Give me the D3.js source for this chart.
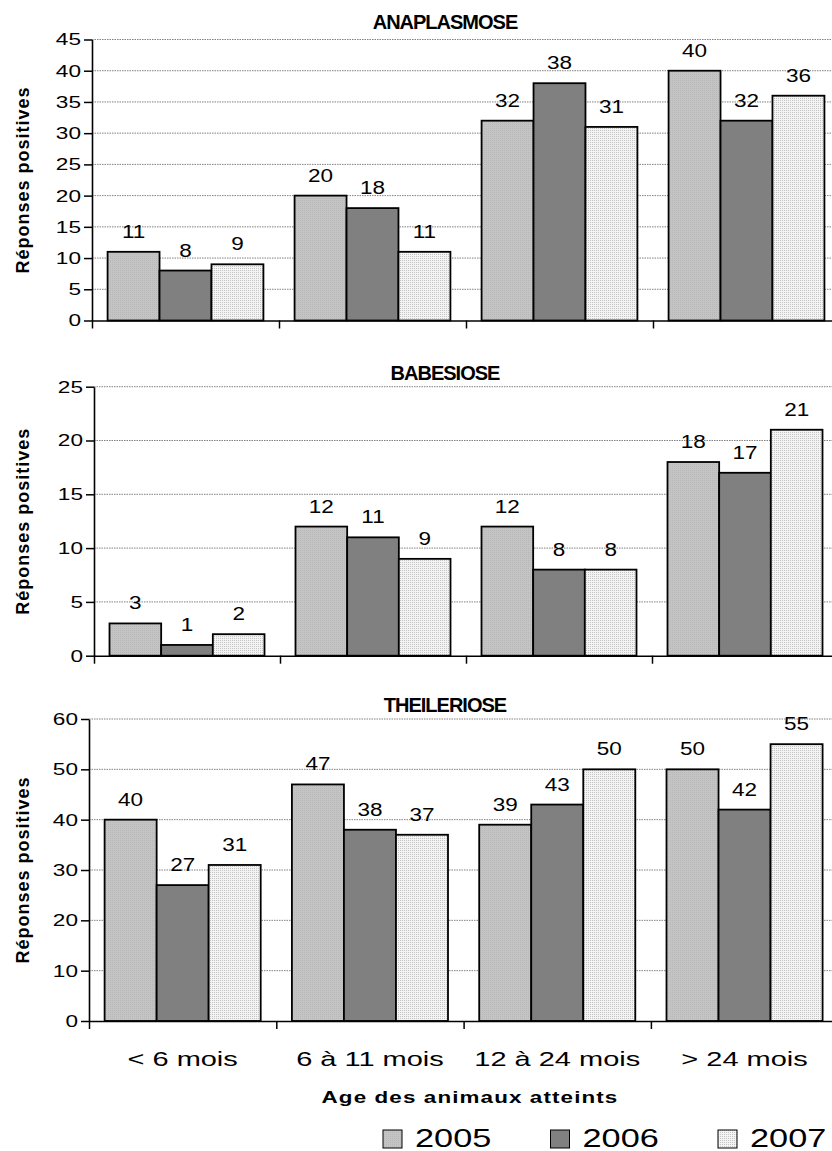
<!DOCTYPE html>
<html>
<head>
<meta charset="utf-8">
<script src="https://cdn.jsdelivr.net/npm/d3@7/dist/d3.min.js"></script>
<style>
body { margin: 0; background: #fff; }
text { font-family: "Liberation Sans", Arial, sans-serif; fill: #000; }
</style>
</head>
<body>
<div id="chart"></div>
<script>
/* Data */
var categories = ["< 6 mois", "6 à 11 mois", "12 à 24 mois", "> 24 mois"];
var years = ["2005", "2006", "2007"];
var diseases = ["ANAPLASMOSE", "BABESIOSE", "THEILERIOSE"];

var anaplasmose = [[11, 20, 32, 40], [8, 18, 38, 32], [9, 11, 31, 36]];
var babesiose   = [[3, 12, 12, 18], [1, 11, 8, 17], [2, 9, 8, 21]];
var theileriose = [[40, 47, 39, 50], [27, 38, 43, 42], [31, 37, 50, 55]];

var yMax  = [45, 25, 60];
var yStep = [5, 5, 10];

var yTitle = "Réponses positives";
var xTitle = "Age des animaux atteints";

/* Layout of the three panels (pixels) */
var panels = [
    { left: 92, band: 187,   top: 39.5,  bottom: 320.5,  titleY: 29 },
    { left: 94, band: 186,   top: 386.7, bottom: 655.7,  titleY: 380 },
    { left: 89, band: 187.3, top: 719,   bottom: 1021,   titleY: 712 }
];
var allData = [anaplasmose, babesiose, theileriose];

var width = 832, svgheight = 1151;
var fills = ["url(#p2005)", "#808080", "url(#p2007)"];

var svg = d3.select("#chart").append("svg")
    .attr("width", width)
    .attr("height", svgheight);

/* Fill patterns for 2005 and 2007 */
var defs = svg.append("defs");
var p5 = defs.append("pattern").attr("id", "p2005")
    .attr("width", 2).attr("height", 2).attr("patternUnits", "userSpaceOnUse");
p5.append("rect").attr("width", 2).attr("height", 2).attr("fill", "#c4c4c4");
p5.append("rect").attr("width", 1).attr("height", 1).attr("fill", "#b8b8b8");

var p7 = defs.append("pattern").attr("id", "p2007")
    .attr("width", 2).attr("height", 2).attr("patternUnits", "userSpaceOnUse");
p7.append("rect").attr("width", 2).attr("height", 2).attr("fill", "#f4f4f4");
p7.append("rect").attr("width", 1).attr("height", 1).attr("fill", "#c4c4c4");

/* stretched text helper: the original text is wide */
function wideText (g, x, y, str, size, sx) {
    return g.append("text")
        .attr("transform", "translate(" + x + "," + y + ") scale(" + sx + ",1)")
        .attr("font-size", size)
        .text(str);
}

panels.forEach(function (p, k) {
    var data = allData[k];
    var right = p.left + 4 * p.band;
    var g = svg.append("g");

    var x = d3.scaleBand().domain(categories)
        .range([p.left, right])
        .paddingInner(1 / 6).paddingOuter(1 / 12);
    var x1 = d3.scaleBand().domain(years).range([0, x.bandwidth()]);
    var y = d3.scaleLinear().domain([0, yMax[k]]).range([p.bottom, p.top]);
    var ticks = d3.range(0, yMax[k] + 1, yStep[k]);

    /* dotted gridlines */
    g.selectAll("line.grid").data(ticks.slice(1)).enter().append("line")
        .attr("class", "grid")
        .attr("x1", p.left).attr("x2", right)
        .attr("y1", function (d) { return y(d); })
        .attr("y2", function (d) { return y(d); })
        .attr("stroke", "#808080")
        .attr("stroke-width", 1)
        .attr("stroke-dasharray", "1.5,1");

    /* bars and their value labels */
    years.forEach(function (yr, s) {
        g.append("g").selectAll("rect").data(data[s]).enter().append("rect")
            .attr("x", function (d, i) { return x(categories[i]) + x1(yr); })
            .attr("y", function (d) { return y(d); })
            .attr("width", x1.bandwidth())
            .attr("height", function (d) { return y(0) - y(d); })
            .attr("fill", fills[s])
            .attr("stroke", "#000")
            .attr("stroke-width", 1.8);

        data[s].forEach(function (d, i) {
            wideText(g, x(categories[i]) + x1(yr) + x1.bandwidth() / 2, y(d) - 14, d, 18, 1.25)
                .attr("text-anchor", "middle");
        });
    });

    /* y axis */
    var yAxis = g.append("g")
        .attr("transform", "translate(" + p.left + ",0)")
        .call(d3.axisLeft(y).tickValues(ticks).tickSize(8).tickSizeOuter(0));
    yAxis.attr("font-family", null).attr("font-size", 17);
    yAxis.select(".domain").attr("stroke-width", 1.6);
    yAxis.selectAll(".tick line").attr("stroke-width", 1.5);
    yAxis.selectAll(".tick text")
        .attr("x", null)
        .attr("fill", "#000")
        .attr("transform", "translate(-11,0) scale(1.33,1)");

    /* x axis with ticks between the categories */
    var xb = d3.scaleLinear().domain([0, 4]).range([p.left, right]);
    var xAxis = g.append("g")
        .attr("transform", "translate(0," + p.bottom + ")")
        .call(d3.axisBottom(xb).ticks(4).tickSize(8).tickSizeOuter(0).tickFormat(""));
    xAxis.select(".domain").attr("stroke-width", 1.6);
    xAxis.selectAll(".tick line").attr("stroke-width", 1.5);

    if (k == 2) {
        categories.forEach(function (c) {
            wideText(g, x(c) + x.bandwidth() / 2, p.bottom + 45, c, 21, 1.38)
                .attr("text-anchor", "middle");
        });
    }

    /* panel title */
    g.append("text")
        .attr("x", 445).attr("y", p.titleY)
        .attr("text-anchor", "middle")
        .attr("font-size", 20)
        .attr("font-weight", "bold")
        .attr("letter-spacing", -1)
        .text(diseases[k]);

    /* y axis title */
    g.append("text")
        .attr("transform", "translate(29," + (p.top + p.bottom) / 2 + ") rotate(-90)")
        .attr("text-anchor", "middle")
        .attr("font-size", 18)
        .attr("font-weight", "bold")
        .attr("letter-spacing", 1)
        .text(yTitle);
});

/* x axis title */
wideText(svg, 470, 1103, xTitle, 16, 1.4)
    .attr("text-anchor", "middle")
    .attr("font-weight", "bold")
    .attr("letter-spacing", 0.8);

/* legend */
var legend = svg.append("g");
years.forEach(function (yr, s) {
    var lx = 383 + s * 167.5;
    legend.append("rect")
        .attr("x", lx).attr("y", 1130)
        .attr("width", 19).attr("height", 18)
        .attr("fill", fills[s])
        .attr("stroke", "#000")
        .attr("stroke-width", 1);
    wideText(legend, lx + 32, 1147, yr, 26, 1.32);
});
</script>
</body>
</html>
